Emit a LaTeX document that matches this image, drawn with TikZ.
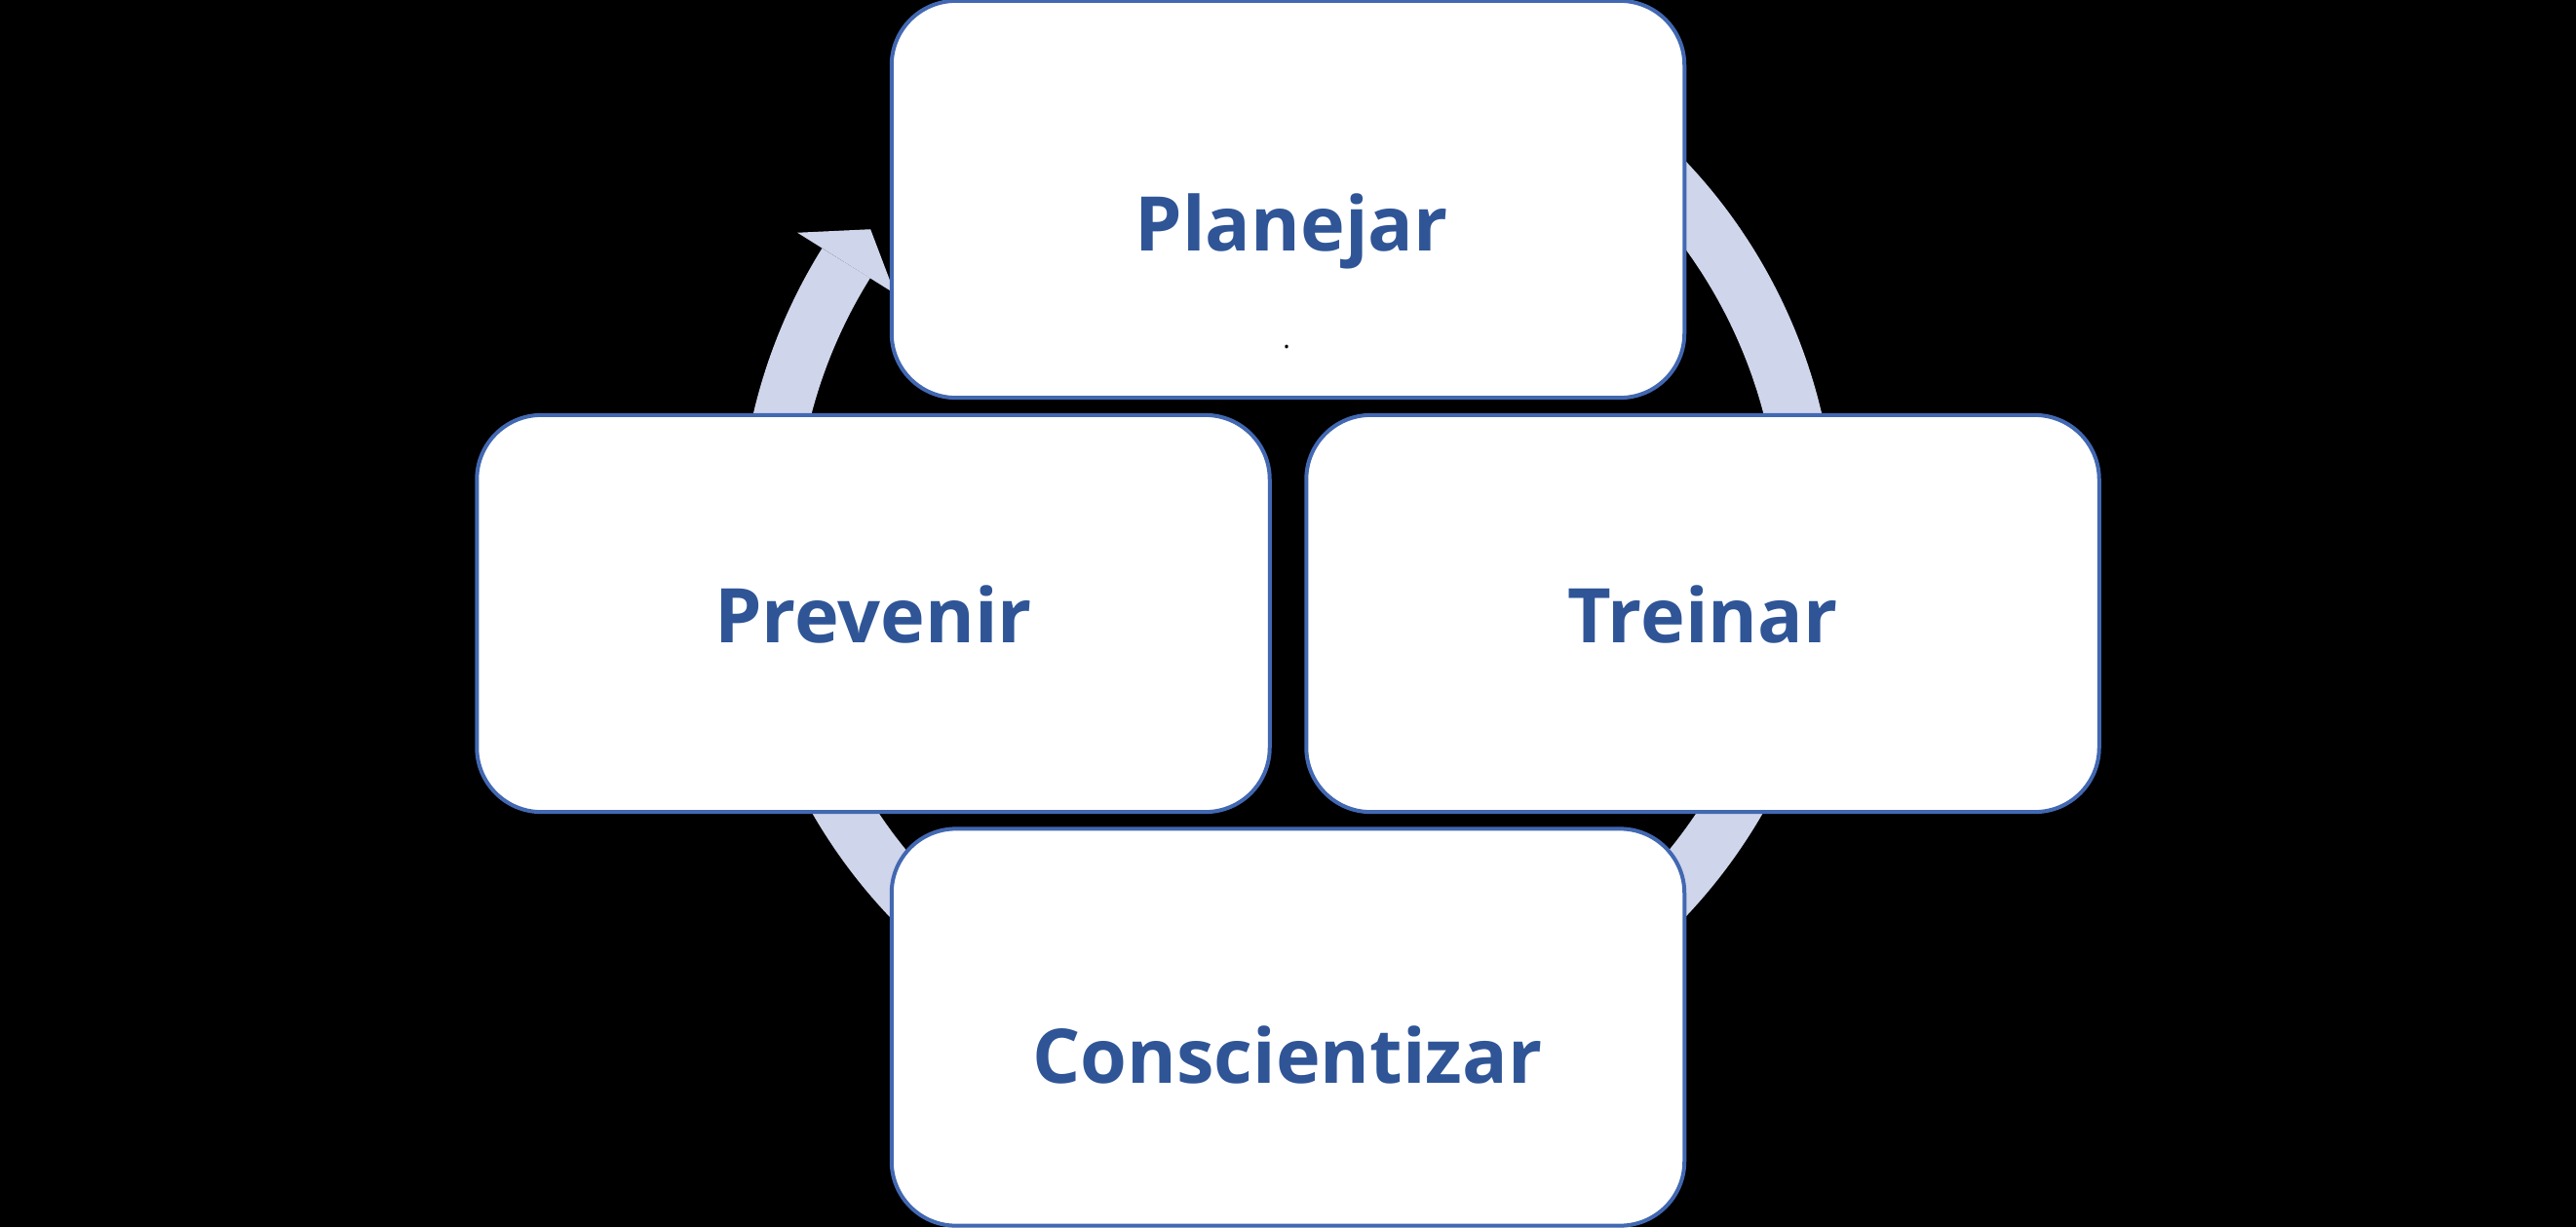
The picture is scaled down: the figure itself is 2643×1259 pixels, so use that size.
\documentclass[tikz,border=0pt]{standalone}
\usepackage{fontspec}
\setmainfont{Open Sans}
\usetikzlibrary{calc,positioning}
\definecolor{cycleEdge}{RGB}{66,104,178}
\definecolor{cycleText}{RGB}{47,85,151}
\definecolor{cycleRing}{RGB}{207,213,234}
\tikzset{
  stagebox/.style={rounded corners=0.66cm,draw=cycleEdge,fill=white,line width=0.04cm,
    minimum width=8.13cm,minimum height=4.07cm,inner sep=0pt,outer sep=0pt},
  stagelabel/.style={anchor=base,text=cycleText,inner sep=0pt,
    font=\bfseries\fontsize{22}{26}\selectfont}
}

\begin{document}
\begin{tikzpicture}[x=0.01cm,y=0.01cm]
\fill[black] (0,0) rectangle (2643,1259);
\useasboundingbox (0,0) rectangle (2643,1259);
% ring with its head
\coordinate (ctr) at (1321,706);
\draw[cycleRing,line width=0.58cm] ($(ctr)+(60:534)$) arc[start angle=60,end angle=-212,radius=534];
\fill[cycleRing] ($(ctr)+(148:475)$) -- ($(ctr)+(143.4:533)$) -- ($(ctr)+(148:593)$) -- cycle;
% stages
\node[stagebox] (plan) at (1321.5,1054.5) {};
\node[stagebox] (prev) at (896,629.5) {};
\node[stagebox] (trein) at (1747,629.5) {};
\node[stagebox] (consc) at (1321.5,205) {};
\node[stagelabel] (planT) at (1325,1002) {Planejar};
\node[stagelabel] (prevT) at (896,600) {Prevenir};
\node[stagelabel] (treinT) at (1747,600) {Treinar};
\node[stagelabel] (conscT) at (1321,148) {Conscientizar};
\node[anchor=base,inner sep=0pt,font=\fontsize{8}{8}\selectfont] (planDot) at (1320,902) {.};
\end{tikzpicture}
\end{document}
